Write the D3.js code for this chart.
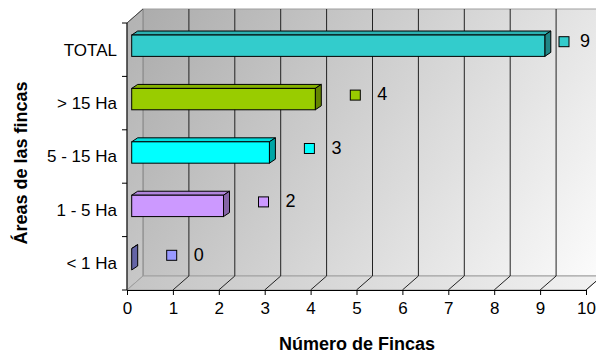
<!DOCTYPE html>
<html>
<head>
<meta charset="utf-8">
<script src="https://cdn.jsdelivr.net/npm/d3@7"></script>
<style>
  body { margin: 0; background: #fff; }
  text { font-family: "Liberation Sans", Arial, sans-serif; fill: #000; }
</style>
</head>
<body>
<script>
// categories from top to bottom, with their values and colours
var categories = ["TOTAL", "> 15 Ha", "5 - 15 Ha", "1 - 5 Ha", "< 1 Ha"];
var values = [9, 4, 3, 2, 0];
var colors = ["#33CCCC", "#99CC00", "#00FFFF", "#CC99FF", "#9999FF"];
var xTicks = [0, 1, 2, 3, 4, 5, 6, 7, 8, 9, 10];

var w = 596, h = 356;

// 3d depth of the walls and of the bars
var depth = {dx: 16, dy: -14};
var barOff = {dx: 4.7, dy: -4};
var barDepth = {dx: 6, dy: -4};

var svg = d3.select("body").append("svg")
    .attr("width", w)
    .attr("height", h);

var xScale = d3.scaleLinear().domain([0, 10]).range([127, 586]);
var yScale = d3.scaleBand().domain(categories).range([23, 290]);

var x0 = xScale(0), x1 = xScale(10);
var yTop = yScale.range()[0], yBot = yScale.range()[1];

// gradient for the walls
var defs = svg.append("defs");
var grad = defs.append("linearGradient")
    .attr("id", "wall")
    .attr("gradientUnits", "userSpaceOnUse")
    .attr("x1", x0 + depth.dx).attr("y1", yTop + depth.dy)
    .attr("x2", x1).attr("y2", yBot);
grad.append("stop").attr("offset", "0%").attr("stop-color", "#acacac");
grad.append("stop").attr("offset", "100%").attr("stop-color", "#fbfbfb");

var gradFloor = defs.append("linearGradient")
    .attr("id", "floor")
    .attr("x1", 0).attr("y1", 0).attr("x2", 1).attr("y2", 0);
gradFloor.append("stop").attr("offset", "0%").attr("stop-color", "#c4c4c4");
gradFloor.append("stop").attr("offset", "100%").attr("stop-color", "#f2f2f2");

function pts(arr) {
    return arr.map(function(p) { return p[0] + "," + p[1]; }).join(" ");
}

// back wall
svg.append("rect")
    .attr("x", x0 + depth.dx)
    .attr("y", yTop + depth.dy)
    .attr("width", x1 - x0)
    .attr("height", yBot - yTop)
    .attr("fill", "url(#wall)")
    .attr("stroke", "#a0a0a0")
    .attr("stroke-width", 1);

// side wall
svg.append("polygon")
    .attr("points", pts([[x0, yTop], [x0 + depth.dx, yTop + depth.dy], [x0 + depth.dx, yBot + depth.dy], [x0, yBot]]))
    .attr("fill", "url(#wall)")
    .attr("opacity", 0.9)
    .attr("stroke", "#808080")
    .attr("stroke-width", 1);

// floor
svg.append("polygon")
    .attr("points", pts([[x0, yBot], [x0 + depth.dx, yBot + depth.dy], [x1 + depth.dx, yBot + depth.dy], [x1, yBot]]))
    .attr("fill", "url(#floor)")
    .attr("stroke", "#a0a0a0")
    .attr("stroke-width", 1);

// gridlines on back wall and floor
var grid = svg.append("g");
xTicks.slice(1).forEach(function(t) {
    grid.append("line")
        .attr("x1", xScale(t) + depth.dx).attr("y1", yTop + depth.dy)
        .attr("x2", xScale(t) + depth.dx).attr("y2", yBot + depth.dy)
        .attr("stroke", "#222").attr("stroke-width", 1);
    grid.append("line")
        .attr("x1", xScale(t)).attr("y1", yBot)
        .attr("x2", xScale(t) + depth.dx).attr("y2", yBot + depth.dy)
        .attr("stroke", "#222").attr("stroke-width", 1);
});

// bars
var bh = yScale.bandwidth() * 0.4;
var bars = svg.append("g");
categories.forEach(function(c, i) {
    var yc = yScale(c) + yScale.bandwidth() / 2 + barOff.dy;
    var xa = xScale(0) + barOff.dx;
    var xb = xScale(values[i]) + barOff.dx;
    var ya = yc - bh / 2, yb = yc + bh / 2;
    var col = d3.color(colors[i]);
    // top face
    bars.append("polygon")
        .attr("points", pts([[xa, ya], [xa + barDepth.dx, ya + barDepth.dy], [xb + barDepth.dx, ya + barDepth.dy], [xb, ya]]))
        .attr("fill", col.darker(0.4))
        .attr("stroke", "#000").attr("stroke-width", 1);
    // end face
    bars.append("polygon")
        .attr("points", pts([[xb, ya], [xb + barDepth.dx, ya + barDepth.dy], [xb + barDepth.dx, yb + barDepth.dy], [xb, yb]]))
        .attr("fill", col.darker(1.2))
        .attr("stroke", "#000").attr("stroke-width", 1);
    // front face
    if (values[i] > 0) {
        bars.append("rect")
            .attr("x", xa).attr("y", ya)
            .attr("width", xb - xa).attr("height", bh)
            .attr("fill", colors[i])
            .attr("stroke", "#000").attr("stroke-width", 1);
    }
});

// front axis lines
svg.append("line")
    .attr("x1", x0).attr("y1", yTop).attr("x2", x0).attr("y2", yBot)
    .attr("stroke", "#000");
svg.append("line")
    .attr("x1", x0).attr("y1", yTop).attr("x2", x0 + depth.dx).attr("y2", yTop + depth.dy)
    .attr("stroke", "#444");

// x axis
var xAxis = d3.axisBottom(xScale).tickValues(xTicks).tickSize(5).tickPadding(7);
var gx = svg.append("g")
    .attr("transform", "translate(0," + yBot + ")")
    .call(xAxis);
gx.select(".domain").attr("stroke", "#000");
gx.selectAll("text").style("font-size", "17px");

// y axis ticks at band boundaries
var yEdges = categories.map(function(c) { return yScale(c); }).concat([yBot]);
svg.append("g").selectAll("line")
    .data(yEdges)
    .enter()
    .append("line")
    .attr("x1", x0 - 5).attr("x2", x0)
    .attr("y1", function(d) { return d; })
    .attr("y2", function(d) { return d; })
    .attr("stroke", "#000");

// category labels
svg.append("g").selectAll("text")
    .data(categories)
    .enter()
    .append("text")
    .attr("x", 117)
    .attr("y", function(d) { return yScale(d) + yScale.bandwidth() / 2; })
    .attr("dy", "0.35em")
    .attr("text-anchor", "end")
    .style("font-size", "17px")
    .text(function(d) { return d; });

// data labels with legend keys
var labels = svg.append("g");
categories.forEach(function(c, i) {
    var yc = yScale(c) + yScale.bandwidth() / 2;
    var mx = Math.min(xScale(values[i]) + barOff.dx + 35, x1 - 27);
    labels.append("rect")
        .attr("x", mx).attr("y", yc - 13)
        .attr("width", 10).attr("height", 10)
        .attr("fill", colors[i])
        .attr("stroke", "#000").attr("stroke-width", 1);
    labels.append("text")
        .attr("x", Math.min(mx + 27, w - 16))
        .attr("y", yc - 9)
        .attr("dy", "0.35em")
        .style("font-size", "18px")
        .text(values[i]);
});

// axis titles
svg.append("text")
    .attr("x", 357)
    .attr("y", 344)
    .attr("dy", "0.35em")
    .attr("text-anchor", "middle")
    .style("font-size", "18px")
    .style("font-weight", "bold")
    .text("Número de Fincas");

svg.append("text")
    .attr("transform", "translate(21,163) rotate(-90)")
    .attr("dy", "0.35em")
    .attr("text-anchor", "middle")
    .style("font-size", "18px")
    .style("font-weight", "bold")
    .text("Áreas de las fincas");
</script>
</body>
</html>
